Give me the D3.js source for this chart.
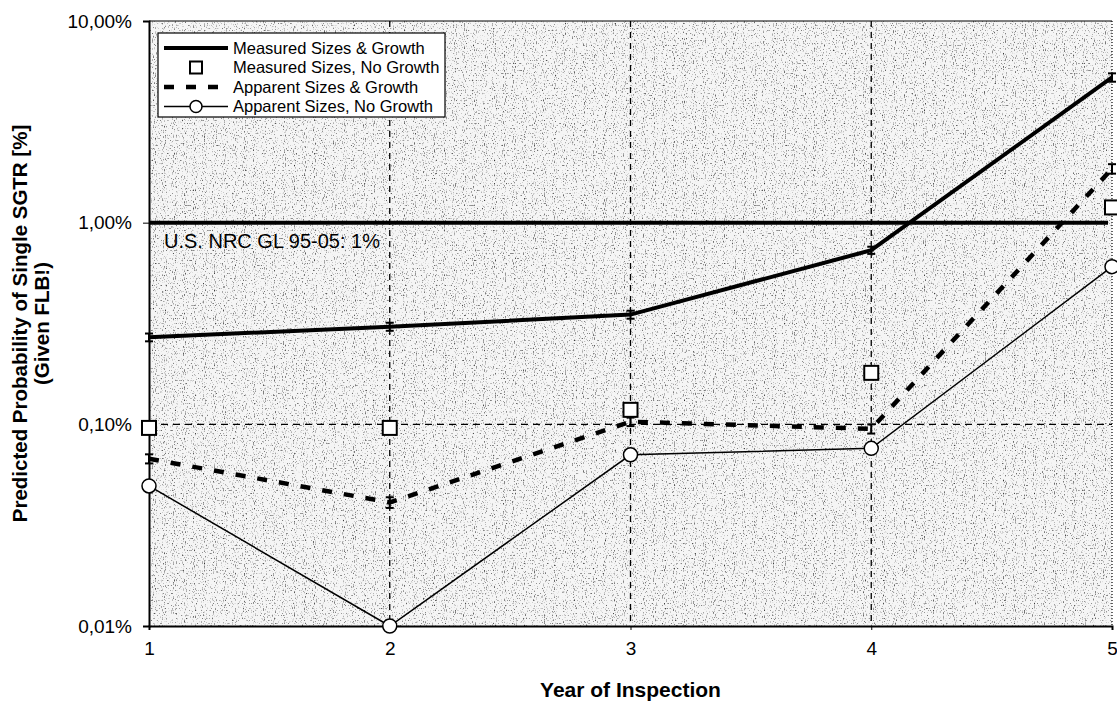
<!DOCTYPE html>
<html>
<head>
<meta charset="utf-8">
<script src="https://cdn.jsdelivr.net/npm/d3@7"></script>
<style>
  body { margin: 0; background: #fff; }
  svg { display: block; }
  text { font-family: "Liberation Sans", Arial, sans-serif; fill: #000; }
</style>
</head>
<body>
<svg id="chart" width="1117" height="707"></svg>
<script>
// values (percent)
const years = [1, 2, 3, 4, 5];
const measuredGrowth = [0.27, 0.305, 0.35, 0.73, 5.25];
const measuredGrowthErr = [0.012, 0.014, 0.016, 0.03, 0.25];
const measuredNoGrowth = [0.096, 0.096, 0.118, 0.18, 1.19];
const apparentGrowth = [0.0675, 0.041, 0.103, 0.095, 1.85];
const apparentGrowthErr = [0.0035, 0.0025, 0.005, 0.005, 0.1];
const apparentNoGrowth = [0.0495, 0.01, 0.0706, 0.076, 0.605];

const yTicks = [0.01, 0.1, 1, 10];
const yTickLabels = ['0,01%', '0,10%', '1,00%', '10,00%'];
const limitValue = 1;
const limitLabel = 'U.S. NRC GL 95-05: 1%';
const legendLabels = [
  'Measured Sizes & Growth',
  'Measured Sizes, No Growth',
  'Apparent Sizes & Growth',
  'Apparent Sizes, No Growth',
];

const width = 1117;
const height = 707;
const margin = { top: 21, right: 5, bottom: 81, left: 149 };

const svg = d3.select('#chart');
const defs = svg.append('defs');

// speckled scan background
const filt = defs.append('filter').attr('id', 'speckle')
  .attr('x', 0).attr('y', 0).attr('width', 1).attr('height', 1);
filt.append('feTurbulence')
  .attr('type', 'fractalNoise')
  .attr('baseFrequency', '0.9 0.6')
  .attr('numOctaves', 1)
  .attr('seed', 3)
  .attr('result', 'noise');
filt.append('feColorMatrix')
  .attr('in', 'noise')
  .attr('type', 'matrix')
  .attr('values', '0 0 0 0 0  0 0 0 0 0  0 0 0 0 0  3.0 0 0 0 -1.72');

const x = d3.scaleLinear().domain([1, 5]).range([margin.left, width - margin.right]);
const y = d3.scaleLog().domain([0.01, 10]).range([height - margin.bottom, margin.top]);

const x0 = x.range()[0];
const x1 = x.range()[1];
const yTop = y.range()[1];
const yBot = y.range()[0];

// plot background
svg.append('rect')
  .attr('x', x0).attr('y', yTop)
  .attr('width', x1 - x0).attr('height', yBot - yTop)
  .attr('fill', '#f5f5f5');
svg.append('rect')
  .attr('x', x0).attr('y', yTop)
  .attr('width', x1 - x0).attr('height', yBot - yTop)
  .attr('fill', '#444')
  .attr('filter', 'url(#speckle)');

// dashed grid
svg.append('g')
  .selectAll('line')
  .data(years.slice(1, -1))
  .join('line')
  .attr('x1', (d) => x(d)).attr('x2', (d) => x(d))
  .attr('y1', yTop).attr('y2', yBot)
  .attr('stroke', '#000')
  .attr('stroke-width', 1.3)
  .attr('stroke-dasharray', '6,5');
svg.append('line')
  .attr('x1', x0).attr('x2', x1)
  .attr('y1', y(0.1)).attr('y2', y(0.1))
  .attr('stroke', '#000')
  .attr('stroke-width', 1.3)
  .attr('stroke-dasharray', '7,5');

// frame: top solid, right dotted
svg.append('line')
  .attr('x1', x0).attr('x2', x1).attr('y1', yTop).attr('y2', yTop)
  .attr('stroke', '#000').attr('stroke-width', 1.2);
svg.append('line')
  .attr('x1', x1).attr('x2', x1).attr('y1', yTop).attr('y2', yBot)
  .attr('stroke', '#000').attr('stroke-width', 1.2)
  .attr('stroke-dasharray', '1,2');

// axes
const yAxis = svg.append('g')
  .attr('transform', `translate(${x0},0)`)
  .call(d3.axisLeft(y).tickValues(yTicks)
    .tickFormat((d, i) => yTickLabels[i])
    .tickSize(6).tickPadding(11));
yAxis.select('.domain').attr('stroke-width', 2);
yAxis.selectAll('text')
  .attr('font-size', 19)
  .attr('font-family', '"Liberation Sans", Arial, sans-serif');

const xAxis = svg.append('g')
  .attr('transform', `translate(0,${yBot})`)
  .call(d3.axisBottom(x).tickValues(years)
    .tickFormat(d3.format('d'))
    .tickSize(4).tickPadding(12));
xAxis.select('.domain').attr('stroke-width', 2);
xAxis.selectAll('text')
  .attr('font-size', 19)
  .attr('font-family', '"Liberation Sans", Arial, sans-serif');

// limit line and label
svg.append('line')
  .attr('x1', x0).attr('x2', x1 - 4)
  .attr('y1', y(limitValue)).attr('y2', y(limitValue))
  .attr('stroke', '#000').attr('stroke-width', 4);
svg.append('text')
  .attr('x', x0 + 15).attr('y', y(limitValue) + 25)
  .attr('font-size', 20)
  .text(limitLabel);

const line = d3.line()
  .x((d, i) => x(years[i]))
  .y((d) => y(d));

// series lines
svg.append('path')
  .attr('d', line(apparentNoGrowth))
  .attr('fill', 'none').attr('stroke', '#000').attr('stroke-width', 1.5);
svg.append('path')
  .attr('d', line(apparentGrowth))
  .attr('fill', 'none').attr('stroke', '#000').attr('stroke-width', 4.5)
  .attr('stroke-dasharray', '10,12');
svg.append('path')
  .attr('d', line(measuredGrowth))
  .attr('fill', 'none').attr('stroke', '#000').attr('stroke-width', 4);

// error bars
function errorBars(values, errs) {
  const g = svg.append('g').attr('stroke', '#000').attr('stroke-width', 2);
  values.forEach((v, i) => {
    const cx = x(years[i]);
    const ya = y(v + errs[i]);
    const yb = y(v - errs[i]);
    g.append('line').attr('x1', cx).attr('x2', cx).attr('y1', ya).attr('y2', yb);
    g.append('line').attr('x1', cx - 4).attr('x2', cx + 4).attr('y1', ya).attr('y2', ya);
    g.append('line').attr('x1', cx - 4).attr('x2', cx + 4).attr('y1', yb).attr('y2', yb);
  });
}
errorBars(measuredGrowth, measuredGrowthErr);
errorBars(apparentGrowth, apparentGrowthErr);

// markers
svg.append('g')
  .selectAll('rect')
  .data(measuredNoGrowth)
  .join('rect')
  .attr('x', (d, i) => x(years[i]) - 7)
  .attr('y', (d) => y(d) - 7)
  .attr('width', 14).attr('height', 14)
  .attr('fill', '#fff').attr('stroke', '#000').attr('stroke-width', 2);
svg.append('g')
  .selectAll('circle')
  .data(apparentNoGrowth)
  .join('circle')
  .attr('cx', (d, i) => x(years[i]))
  .attr('cy', (d) => y(d))
  .attr('r', 7)
  .attr('fill', '#fff').attr('stroke', '#000').attr('stroke-width', 1.5);

// axis titles
svg.append('text')
  .attr('x', (x0 + x1) / 2).attr('y', 697)
  .attr('text-anchor', 'middle')
  .attr('font-size', 21).attr('font-weight', 'bold')
  .text('Year of Inspection');
const yTitle = svg.append('text')
  .attr('transform', `translate(27,${(yTop + yBot) / 2}) rotate(-90)`)
  .attr('text-anchor', 'middle')
  .attr('font-size', 20.5).attr('font-weight', 'bold');
yTitle.append('tspan').attr('x', 0).attr('dy', 0)
  .text('Predicted Probability of Single SGTR [%]');
yTitle.append('tspan').attr('x', 0).attr('dy', 22)
  .text('(Given FLB!)');

// legend
const lg = svg.append('g').attr('transform', 'translate(158,33)');
lg.append('rect')
  .attr('width', 287).attr('height', 84)
  .attr('fill', '#fff').attr('stroke', '#000').attr('stroke-width', 1.2);
const rowY = (i) => 15 + i * 19.5;
const sx0 = 6;
const sx1 = 70;
const smid = (sx0 + sx1) / 2;
lg.append('line').attr('x1', sx0).attr('x2', sx1).attr('y1', rowY(0)).attr('y2', rowY(0))
  .attr('stroke', '#000').attr('stroke-width', 4);
lg.append('rect').attr('x', smid - 6).attr('y', rowY(1) - 6).attr('width', 12).attr('height', 12)
  .attr('fill', '#fff').attr('stroke', '#000').attr('stroke-width', 2);
lg.append('line').attr('x1', sx0).attr('x2', sx1).attr('y1', rowY(2)).attr('y2', rowY(2))
  .attr('stroke', '#000').attr('stroke-width', 4.5).attr('stroke-dasharray', '10,12');
lg.append('line').attr('x1', sx0).attr('x2', sx1).attr('y1', rowY(3)).attr('y2', rowY(3))
  .attr('stroke', '#000').attr('stroke-width', 1.5);
lg.append('circle').attr('cx', smid).attr('cy', rowY(3)).attr('r', 6)
  .attr('fill', '#fff').attr('stroke', '#000').attr('stroke-width', 1.5);
lg.selectAll('text.lbl')
  .data(legendLabels)
  .join('text')
  .attr('class', 'lbl')
  .attr('x', 75)
  .attr('y', (d, i) => rowY(i) + 5.5)
  .attr('font-size', 16.5)
  .text((d) => d);
</script>
</body>
</html>
